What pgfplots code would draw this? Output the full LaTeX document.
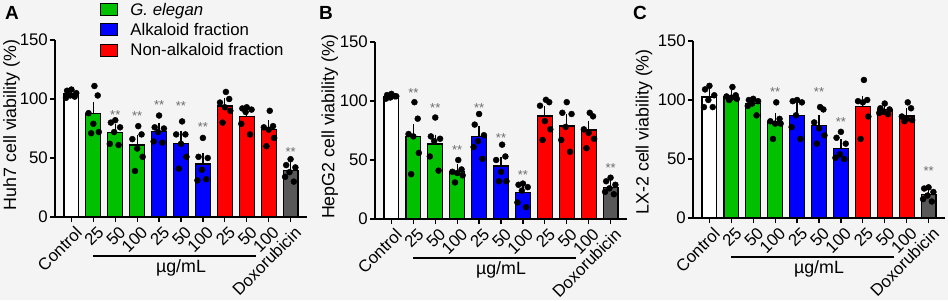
\documentclass[border=0pt]{standalone}
\usepackage{fontspec}
\setmainfont{Liberation Sans}
\usepackage{pgfplots}
\pgfplotsset{compat=1.18}
\usepackage{pgfplotstable}

\definecolor{bg}{RGB}{244,244,244}
\definecolor{cgreen}{RGB}{0,192,0}
\definecolor{cblue}{RGB}{0,0,255}
\definecolor{cred}{RGB}{255,0,0}
\definecolor{cgray}{RGB}{88,88,88}
\definecolor{stargray}{RGB}{110,110,110}

\newcommand{\fs}{\fontsize{16.8}{19}\selectfont}
\newcommand{\fl}{\fontsize{17.8}{20}\selectfont}

% bar means and SEM
\pgfplotstableread{
x y e
0 104.2 1.5
1 88 6
2 71.5 4
3 61 5.5
4 72.5 3.5
5 62.5 7
6 45 5.5
7 94 3.5
8 85.5 4
9 74 4.5
10 39.5 3.5
}\barA
\pgfplotstableread{
x y e
0 104 1
1 69.8 7.5
2 63.6 4.5
3 40 3
4 69.8 6
5 45 4.5
6 22.6 3.5
7 87.3 5
8 78.8 7
9 75.5 4.5
10 27 3
}\barB
\pgfplotstableread{
x y e
0 102.5 3.5
1 103.3 1.5
2 97 2
3 81.6 3.7
4 87.2 6.5
5 78.2 5.7
6 59.1 4.2
7 94.3 5.6
8 92 2
9 86.4 3.6
10 19.7 2.8
}\barC

% individual points
\pgfplotstableread{
x y
0.00 108
-0.20 107
0.22 105
-0.05 103
-0.25 101
0.15 102
1.05 111
1.20 103
0.78 88
1.00 79
1.25 72
0.90 71
2.00 82
1.80 80
2.22 76
1.95 72
1.75 62
2.15 61
3.05 77
3.20 70
2.78 66
3.00 58
3.25 51
2.90 39
4.00 86
3.80 76
4.22 75
3.95 72
3.75 64
4.15 63
5.05 81
5.20 70
4.78 70
5.00 62
5.25 51
4.90 41
6.00 67
5.80 51
6.22 50
5.95 40
5.75 31
6.15 32
7.05 106
7.20 100
6.78 97
7.00 93
7.25 90
6.90 80
8.00 93
7.80 92
8.22 91
7.95 89
7.75 79
8.15 70
9.05 90
9.20 77
8.78 76
9.00 74
9.25 67
8.90 60
10.00 49
9.80 44
10.22 42
9.95 38
9.75 34
10.15 30
}\dotA
\pgfplotstableread{
x y
0.00 106
-0.20 105
0.22 104
-0.05 103
-0.25 102
0.15 104
1.05 99
1.20 85
0.78 72
1.00 70
1.25 56
0.90 38
2.00 86
1.80 70
2.22 68
1.95 66
1.75 53
2.15 41
3.05 50
3.20 42
2.78 40
3.00 39
3.25 37
2.90 31
4.00 89
3.80 80
4.22 71
3.95 66
3.75 61
4.15 51
5.05 63
5.20 53
4.78 50
5.00 40
5.25 32
4.90 32
6.00 30
5.80 29
6.22 27
5.95 24
5.75 14
6.15 10
7.05 101
7.20 99
6.78 96
7.00 83
7.25 76
6.90 67
8.00 99
7.80 90
8.22 89
7.95 78
7.75 67
8.15 57
9.05 90
9.20 87
8.78 76
9.00 73
9.25 68
8.90 60
10.00 35
9.80 32
10.22 29
9.95 26
9.75 23
10.15 21
}\dotB
\pgfplotstableread{
x y
0.00 112
-0.20 109
0.22 104
-0.05 100
-0.25 94
0.15 94
1.05 111
1.20 104
0.78 103
1.00 102
1.25 101
0.90 100
2.00 101
1.80 100
2.22 99
1.95 97
1.75 95
2.15 87
3.05 98
3.20 84
2.78 82
3.00 80
3.25 80
2.90 67
4.00 100
3.80 99
4.22 98
3.95 87
3.75 77
4.15 67
5.05 94
5.20 92
4.78 81
5.00 76
5.25 70
4.90 63
6.00 73
5.80 68
6.22 63
5.95 54
5.75 51
6.15 50
7.05 117
7.20 100
6.78 99
7.00 98
7.25 86
6.90 67
8.00 97
7.80 93
8.22 92
7.95 90
7.75 89
8.15 88
9.05 98
9.20 93
8.78 86
9.00 84
9.25 83
8.90 82
10.00 26
9.80 25
10.22 22
9.95 19
9.75 16
10.15 14
}\dotC

\pgfplotsset{
  panel/.style={
    scale only axis, width=252pt, height=177pt,
    xmin=-0.75, xmax=10.75, ymin=0, ymax=150,
    axis lines*=left, axis line style={line width=1.3pt},
    xtick={0,...,10},
    xticklabels={Control,25,50,100,25,50,100,25,50,100,Doxorubicin},
    ytick={0,50,100,150},
    tick align=outside, major tick length=5pt,
    tick style={line width=1.3pt, black},
    /pgf/number format/assume math mode=true,
    tick label style={font=\fs},
    xticklabel style={xshift=3pt, yshift=-3pt, rotate=45, anchor=north east, inner sep=0pt},
    yticklabel style={inner sep=2pt},
    clip=false,
  },
  ylab/.style={every axis y label/.style={at={(axis description cs:#1)}, rotate=90, anchor=center, font=\fl}},
  barst/.style={ybar, bar width=0.68, bar shift=0pt, draw=black, line width=1.2pt},
  errst/.style={draw=none, mark=none, forget plot,
    error bars/.cd, y dir=plus, y explicit,
    error bar style={draw=black, line width=1.2pt},
    error mark options={draw=black, line width=1.2pt, mark size=4pt}},
  dotst/.style={only marks, mark=*, mark size=3pt, black, forget plot},
}
\tikzset{starlbl/.style={font=\fontsize{13}{13}\selectfont, text=stargray, anchor=base, yshift=-7pt}}

\newcommand{\unitline}{%
  \draw[line width=1.2pt] ([yshift=-39pt]axis cs:1,0) -- ([yshift=-39pt]axis cs:8.4,0);
  \node[font=\fl] at ([yshift=-51pt]axis cs:5,0) {µg/mL};
}

\begin{document}
\begin{tikzpicture}
\fill[bg] (0,0) rectangle (948pt,300pt);

% ---------------- A ----------------
\begin{axis}[panel, at={(55pt,83pt)}, anchor=south west,
  ylab={-0.173,0.52},
  ylabel={Huh7 cell viability (\%)},
  legend style={at={(axis description cs:0.179,1.222)}, anchor=north west, draw=none, fill=none,
    font=\fs, inner sep=0pt, row sep=2.5pt, cells={anchor=west}},
  legend image code/.code={\draw[#1, draw=black, line width=1pt] (0pt,-6pt) rectangle (17pt,6pt); \path (27pt,0pt);},
]
\addplot[barst, fill=white, forget plot, restrict x to domain=-0.5:0.5] table[x=x,y=y] {\barA};
\addplot[barst, fill=cgreen, restrict x to domain=0.5:3.5] table[x=x,y=y] {\barA};
\addlegendentry{\textit{G. elegan}}
\addplot[barst, fill=cblue, restrict x to domain=3.5:6.5] table[x=x,y=y] {\barA};
\addlegendentry{Alkaloid fraction}
\addplot[barst, fill=cred, restrict x to domain=6.5:9.5] table[x=x,y=y] {\barA};
\addlegendentry{Non-alkaloid fraction}
\addplot[barst, fill=cgray, forget plot, restrict x to domain=9.5:10.5] table[x=x,y=y] {\barA};
\addplot[errst] table[x=x,y=y,y error=e] {\barA};
\addplot[dotst] table[x=x,y=y] {\dotA};
\node[starlbl] at (axis cs:2,88.5) {**};
\node[starlbl] at (axis cs:3,88) {**};
\node[starlbl] at (axis cs:4,97) {**};
\node[starlbl] at (axis cs:5,96.5) {**};
\node[starlbl] at (axis cs:6,78) {**};
\node[starlbl] at (axis cs:10,57) {**};
\unitline
\end{axis}

% ---------------- B ----------------
\begin{axis}[panel, at={(375pt,81pt)}, anchor=south west,
  ylab={-0.179,0.52},
  ylabel={HepG2 cell viability (\%)}]
\addplot[barst, fill=white, restrict x to domain=-0.5:0.5] table[x=x,y=y] {\barB};
\addplot[barst, fill=cgreen, restrict x to domain=0.5:3.5] table[x=x,y=y] {\barB};
\addplot[barst, fill=cblue, restrict x to domain=3.5:6.5] table[x=x,y=y] {\barB};
\addplot[barst, fill=cred, restrict x to domain=6.5:9.5] table[x=x,y=y] {\barB};
\addplot[barst, fill=cgray, restrict x to domain=9.5:10.5] table[x=x,y=y] {\barB};
\addplot[errst] table[x=x,y=y,y error=e] {\barB};
\addplot[dotst] table[x=x,y=y] {\dotB};
\node[starlbl] at (axis cs:1,109) {**};
\node[starlbl] at (axis cs:2,96) {**};
\node[starlbl] at (axis cs:3,61) {**};
\node[starlbl] at (axis cs:4,96) {**};
\node[starlbl] at (axis cs:5,71) {**};
\node[starlbl] at (axis cs:6,39.5) {**};
\node[starlbl] at (axis cs:10,45) {**};
\unitline
\end{axis}

% ---------------- C ----------------
\begin{axis}[panel, at={(693pt,82pt)}, anchor=south west,
  ylab={-0.194,0.487},
  ylabel={LX-2 cell viability (\%)}]
\addplot[barst, fill=white, restrict x to domain=-0.5:0.5] table[x=x,y=y] {\barC};
\addplot[barst, fill=cgreen, restrict x to domain=0.5:3.5] table[x=x,y=y] {\barC};
\addplot[barst, fill=cblue, restrict x to domain=3.5:6.5] table[x=x,y=y] {\barC};
\addplot[barst, fill=cred, restrict x to domain=6.5:9.5] table[x=x,y=y] {\barC};
\addplot[barst, fill=cgray, restrict x to domain=9.5:10.5] table[x=x,y=y] {\barC};
\addplot[errst] table[x=x,y=y,y error=e] {\barC};
\addplot[dotst] table[x=x,y=y] {\dotC};
\node[starlbl] at (axis cs:3,109) {**};
\node[starlbl] at (axis cs:5,108.5) {**};
\node[starlbl] at (axis cs:6,83.6) {**};
\node[starlbl] at (axis cs:10,42) {**};
\unitline
\end{axis}

\node[font=\bfseries\fontsize{19}{19}\selectfont, anchor=north west, inner sep=0pt] at (5pt,294pt) {A};
\node[font=\bfseries\fontsize{19}{19}\selectfont, anchor=north west, inner sep=0pt] at (319pt,294pt) {B};
\node[font=\bfseries\fontsize{19}{19}\selectfont, anchor=north west, inner sep=0pt] at (633pt,294pt) {C};

\pgfresetboundingbox
\useasboundingbox (0,0) rectangle (948pt,300pt);
\end{tikzpicture}
\end{document}
